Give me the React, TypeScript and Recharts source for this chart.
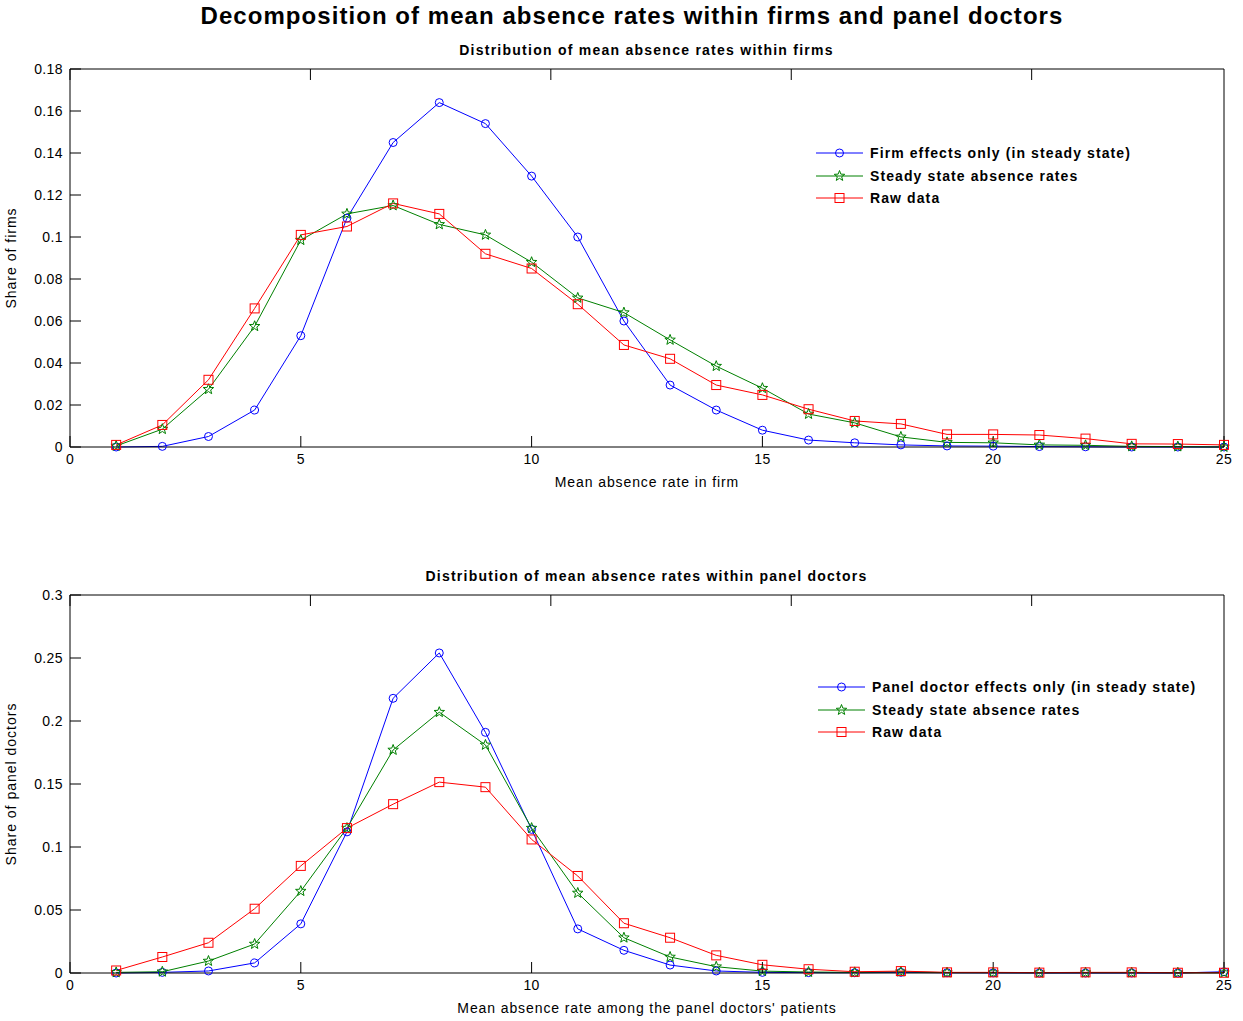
import React from 'react';
import { LineChart, Line, XAxis, YAxis, Legend } from 'recharts';

// mean absence rate buckets (x axis)
const rates = [1, 2, 3, 4, 5, 6, 7, 8, 9, 10, 11, 12, 13, 14, 15, 16, 17, 18, 19, 20, 21, 22, 23, 24, 25];

// top panel: firms
const firmEffects = [0, 0.0003, 0.005, 0.0176, 0.053, 0.109, 0.145, 0.164, 0.154, 0.129, 0.1, 0.06, 0.0295, 0.0176, 0.008, 0.0033, 0.002, 0.001, 0.0005, 0.0004, 0.0002, 0.0001, 0, 0, 0];
const firmSteady = [0.0005, 0.0085, 0.0275, 0.0575, 0.0985, 0.111, 0.115, 0.106, 0.101, 0.088, 0.071, 0.064, 0.051, 0.0385, 0.028, 0.0157, 0.0115, 0.0048, 0.0022, 0.002, 0.001, 0.0008, 0.0003, 0.0002, 0];
const firmRaw = [0.001, 0.0105, 0.032, 0.066, 0.101, 0.105, 0.116, 0.111, 0.092, 0.085, 0.068, 0.0486, 0.042, 0.0295, 0.0248, 0.018, 0.0124, 0.011, 0.006, 0.006, 0.0057, 0.004, 0.0015, 0.0014, 0.001];

// bottom panel: panel doctors
const doctorEffects = [0, 0.0005, 0.0016, 0.008, 0.039, 0.112, 0.218, 0.254, 0.191, 0.114, 0.035, 0.018, 0.0063, 0.0016, 0.0005, 0.0003, 0.0002, 0.0005, 0.0002, 0.0001, 0, 0, 0, 0, 0.001];
const doctorSteady = [0.0005, 0.001, 0.0095, 0.023, 0.065, 0.115, 0.177, 0.207, 0.181, 0.115, 0.0635, 0.028, 0.0127, 0.005, 0.0015, 0.0008, 0.0005, 0.001, 0.0003, 0.0003, 0.0002, 0.0003, 0.0003, 0.0002, 0.0002];
const doctorRaw = [0.002, 0.0127, 0.024, 0.051, 0.085, 0.115, 0.134, 0.1515, 0.1475, 0.106, 0.077, 0.0395, 0.028, 0.014, 0.0065, 0.003, 0.001, 0.0015, 0.0005, 0.0005, 0.0003, 0.0005, 0.0005, 0.0002, 0.0002];

const xTicks = [0, 5, 10, 15, 20, 25];
const firmTicks = [0, 0.02, 0.04, 0.06, 0.08, 0.1, 0.12, 0.14, 0.16, 0.18];
const doctorTicks = [0, 0.05, 0.1, 0.15, 0.2, 0.25, 0.3];

const BLUE = '#0000FF';
const GREEN = '#008000';
const RED = '#FF0000';
const FONT = '"Liberation Sans", Arial, Helvetica, sans-serif';

type Shape = 'circle' | 'star' | 'square';

function marker(shape: Shape, cx: number, cy: number, color: string, key?: string) {
  if (shape === 'circle') {
    return <circle key={key} cx={cx} cy={cy} r={4} fill="none" stroke={color} strokeWidth={1} />;
  }
  if (shape === 'square') {
    return <rect key={key} x={cx - 4.5} y={cy - 4.5} width={9} height={9} fill="none" stroke={color} strokeWidth={1} />;
  }
  const pts: string[] = [];
  for (let i = 0; i < 10; i++) {
    const r = i % 2 === 0 ? 5.5 : 2.3;
    const a = -Math.PI / 2 + (i * Math.PI) / 5;
    pts.push(`${cx + r * Math.cos(a)},${cy + r * Math.sin(a)}`);
  }
  return <polygon key={key} points={pts.join(' ')} fill="none" stroke={color} strokeWidth={1} />;
}

const dotFn = (shape: Shape, color: string) => (p: any) =>
  marker(shape, p.cx, p.cy, color, `m-${shape}-${p.index}`);

interface SeriesDef {
  key: string;
  name: string;
  color: string;
  shape: Shape;
  values: number[];
}

const axisTick = { fill: '#000', fontSize: 14, fontFamily: FONT, letterSpacing: 0.4 };
const noLabel = () => '';
const fmt = (v: number) => String(Number(v.toFixed(2)));

interface PanelProps {
  top: number;
  subtitle: string;
  xLabel: string;
  yLabel: string;
  yMax: number;
  yTicks: number[];
  series: SeriesDef[];
  legendTop: number;
  legendLeft: number;
}

function Panel({ top, subtitle, xLabel, yLabel, yMax, yTicks, series, legendTop, legendLeft }: PanelProps) {
  const data = rates.map((r, i) => {
    const row: Record<string, number> = { rate: r };
    series.forEach((s) => (row[s.key] = s.values[i]));
    return row;
  });

  const renderLegend = () => (
    <div style={{ fontFamily: FONT, fontWeight: 'bold', fontSize: 14, letterSpacing: 1.1, color: '#000' }}>
      {series.map((s) => (
        <div key={s.key} style={{ display: 'flex', alignItems: 'center', height: 22.5, whiteSpace: 'nowrap' }}>
          <svg width={60} height={22} style={{ display: 'block' }}>
            <line x1={6} y1={11} x2={53} y2={11} stroke={s.color} strokeWidth={1} />
            {marker(s.shape, 29.5, 11, s.color)}
          </svg>
          <span>{s.name}</span>
        </div>
      ))}
    </div>
  );

  return (
    <div style={{ position: 'absolute', left: 0, top, width: 1243, height: 495 }}>
      <div
        style={{
          position: 'absolute',
          top: 42,
          left: 0,
          width: 1293,
          textAlign: 'center',
          fontFamily: FONT,
          fontWeight: 'bold',
          fontSize: 14,
          letterSpacing: 1.25,
          color: '#000',
        }}
      >
        {subtitle}
      </div>
      <LineChart width={1243} height={495} data={data} margin={{ top: 68, right: 18, left: 10, bottom: 3 }}>
        <XAxis
          dataKey="rate"
          type="number"
          domain={[0, 25]}
          ticks={xTicks}
          height={45}
          stroke="#000"
          tick={axisTick}
          tickSize={-11}
          tickMargin={18}
          label={{
            value: xLabel,
            position: 'insideBottom',
            offset: 5,
            fill: '#000',
            fontSize: 14,
            fontFamily: FONT,
            style: { letterSpacing: 0.9 },
          }}
        />
        <XAxis
          xAxisId="top"
          orientation="top"
          type="number"
          domain={[0, 25]}
          ticks={xTicks}
          height={1}
          stroke="#000"
          tickSize={-11}
          tickFormatter={noLabel}
        />
        <YAxis
          type="number"
          domain={[0, yMax]}
          ticks={yTicks}
          width={60}
          stroke="#000"
          tick={axisTick}
          tickSize={-11}
          tickMargin={18}
          tickFormatter={fmt}
          label={{
            value: yLabel,
            angle: -90,
            position: 'insideLeft',
            offset: 1,
            fill: '#000',
            fontSize: 14,
            fontFamily: FONT,
            style: { textAnchor: 'middle', letterSpacing: 1 },
          }}
        />
        <YAxis
          yAxisId="right"
          orientation="right"
          type="number"
          domain={[0, yMax]}
          ticks={yTicks}
          width={1}
          stroke="#000"
          tickSize={-11}
          tickFormatter={noLabel}
        />
        <Legend
          layout="vertical"
          align="center"
          verticalAlign="middle"
          content={renderLegend}
          wrapperStyle={{ left: legendLeft, top: legendTop, width: 'auto', height: 'auto' }}
        />
        {series.map((s) => (
          <Line
            key={s.key}
            type="linear"
            dataKey={s.key}
            name={s.name}
            stroke={s.color}
            strokeWidth={1}
            dot={dotFn(s.shape, s.color)}
            activeDot={false}
            legendType="none"
            isAnimationActive={false}
          />
        ))}
      </LineChart>
    </div>
  );
}

export default function App() {
  const firmSeries: SeriesDef[] = [
    { key: 'effects', name: 'Firm effects only (in steady state)', color: BLUE, shape: 'circle', values: firmEffects },
    { key: 'steady', name: 'Steady state absence rates', color: GREEN, shape: 'star', values: firmSteady },
    { key: 'raw', name: 'Raw data', color: RED, shape: 'square', values: firmRaw },
  ];
  const doctorSeries: SeriesDef[] = [
    { key: 'effects', name: 'Panel doctor effects only (in steady state)', color: BLUE, shape: 'circle', values: doctorEffects },
    { key: 'steady', name: 'Steady state absence rates', color: GREEN, shape: 'star', values: doctorSteady },
    { key: 'raw', name: 'Raw data', color: RED, shape: 'square', values: doctorRaw },
  ];

  return (
    <div style={{ position: 'absolute', left: 0, top: 0, width: 1243, height: 1021, background: '#fff', overflow: 'hidden' }}>
      <div
        style={{
          position: 'absolute',
          top: 2,
          left: 0,
          width: 1264,
          textAlign: 'center',
          fontFamily: FONT,
          fontWeight: 'bold',
          fontSize: 24,
          letterSpacing: 1.05,
          color: '#000',
        }}
      >
        Decomposition of mean absence rates within firms and panel doctors
      </div>
      <Panel
        top={0}
        subtitle="Distribution of mean absence rates within firms"
        xLabel="Mean absence rate in firm"
        yLabel="Share of firms"
        yMax={0.18}
        yTicks={firmTicks}
        series={firmSeries}
        legendTop={142}
        legendLeft={810}
      />
      <Panel
        top={526}
        subtitle="Distribution of mean absence rates within panel doctors"
        xLabel="Mean absence rate among the panel doctors' patients"
        yLabel="Share of panel doctors"
        yMax={0.3}
        yTicks={doctorTicks}
        series={doctorSeries}
        legendTop={150}
        legendLeft={812}
      />
    </div>
  );
}
